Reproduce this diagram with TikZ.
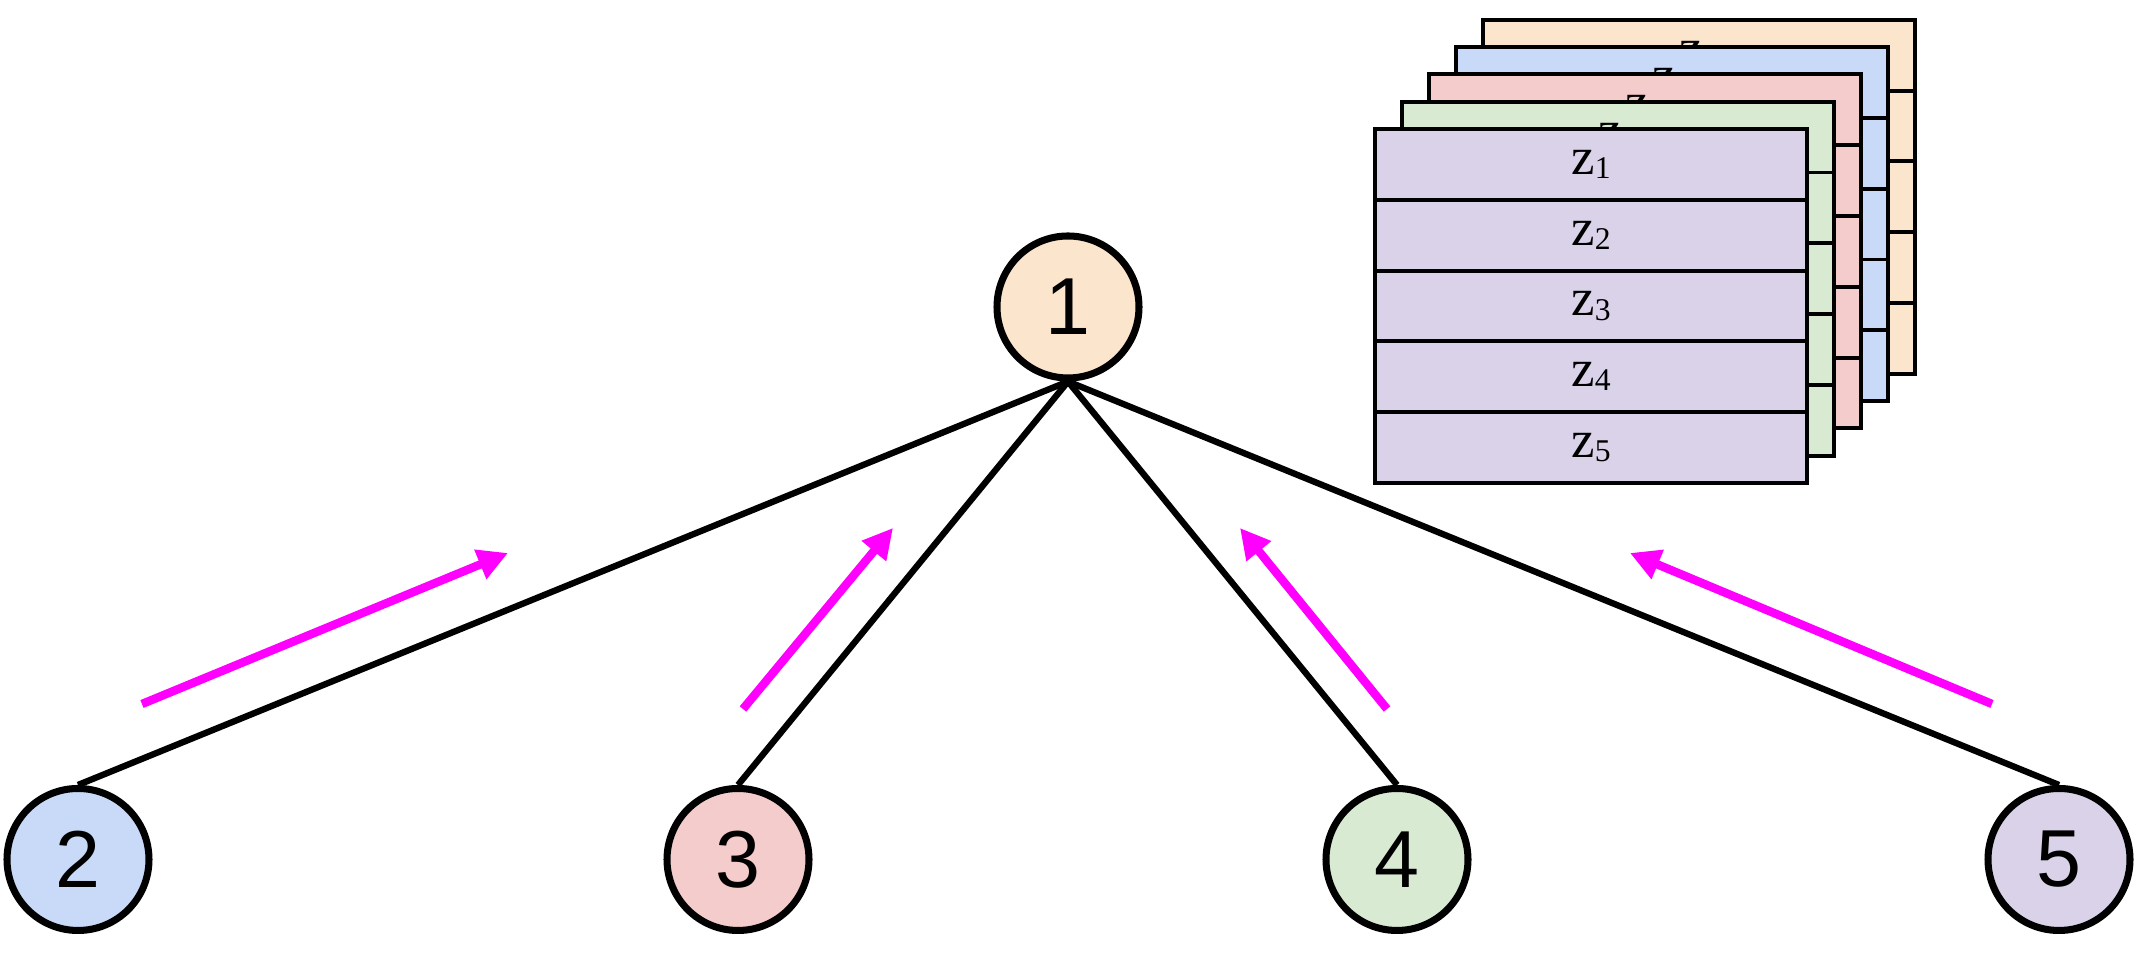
\documentclass[tikz,border=0pt]{standalone}
\usepackage{fontspec}
\usepackage{tikz}
\usetikzlibrary{positioning, arrows.meta}
\newfontfamily\numfont{Liberation Sans}
\newfontfamily\cellfont{Liberation Serif}
\definecolor{peach}{HTML}{FCE5CD}
\definecolor{skyblue}{HTML}{C9DAF8}
\definecolor{rose}{HTML}{F4CCCC}
\definecolor{mint}{HTML}{D9EAD3}
\definecolor{lilac}{HTML}{D9D2E9}
\definecolor{hotpink}{HTML}{FF00FF}
\newcommand{\zcell}[1]{z\raisebox{-0.08em}{\fontsize{9}{10}\selectfont #1}}

\begin{document}
\begin{tikzpicture}[on grid,
    client/.style={circle, draw, line width=2pt, minimum size=1.42cm, inner sep=0pt,
        font=\numfont\fontsize{23}{23}\selectfont},
    link/.style={line width=1.8pt},
    flow/.style={hotpink, line width=2.4pt, -{Triangle[length=0.3cm, width=0.3cm]}},
    row/.style={draw, line width=1.1pt, minimum width=4.32cm, minimum height=0.708cm,
        inner sep=0pt, font=\cellfont\fontsize{15}{17}\selectfont}]
    \useasboundingbox (0,0) rectangle (21.35,9.62);

    % Define tables
    \foreach \c/\k in {peach/4, skyblue/3, rose/2, mint/1, lilac/0} {
        \begin{scope}[shift={(\k*0.27, \k*0.273)}]
            \foreach \r in {1,...,5}
                \node[row, fill=\c] (t\k r\r) at (15.91, 8.33-\r*0.708+0.354) {\zcell{\r}};
        \end{scope}
    }

    % Define clients
    \node[client, fill=peach] (n1) at (10.68,6.55) {1};
    \node[client, fill=skyblue] (n2) [below left=5.525 and 9.9 of n1] {2};
    \node[client, fill=rose] (n3) [right=6.6 of n2] {3};
    \node[client, fill=mint] (n4) [right=6.59 of n3] {4};
    \node[client, fill=lilac] (n5) [right=6.62 of n4] {5};

    % Define links
    \draw[link] (n2.north) -- (n1.south);
    \draw[link] (n3.north) -- (n1.south);
    \draw[link] (n4.north) -- (n1.south);
    \draw[link] (n5.north) -- (n1.south);

    % Define uploads
    \coordinate (a2s) at (1.42,2.58);
    \coordinate (a2e) at (5.08,4.09);
    \coordinate (a3s) at (7.43,2.53);
    \coordinate (a3e) at (8.93,4.34);
    \coordinate (a4s) at (13.87,2.53);
    \coordinate (a4e) at (12.40,4.34);
    \coordinate (a5s) at (19.92,2.58);
    \coordinate (a5e) at (16.30,4.09);
    \draw[flow] (a2s) -- (a2e);
    \draw[flow] (a3s) -- (a3e);
    \draw[flow] (a4s) -- (a4e);
    \draw[flow] (a5s) -- (a5e);
\end{tikzpicture}
\end{document}
